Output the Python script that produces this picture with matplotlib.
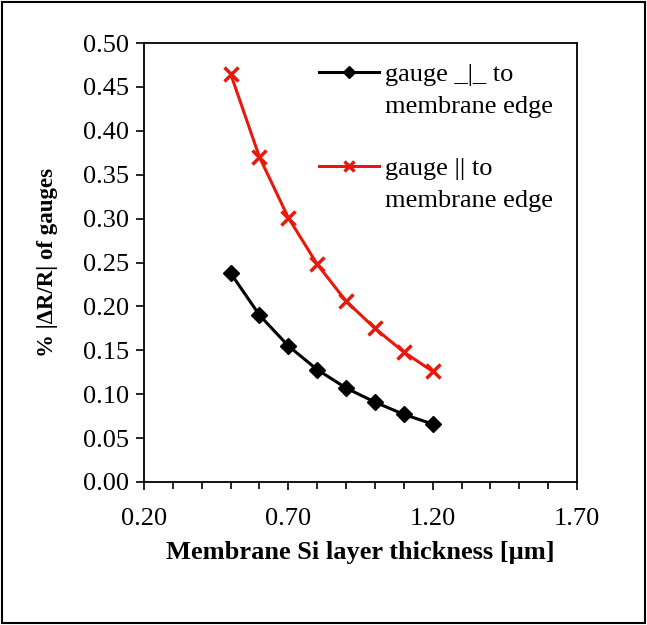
import matplotlib.pyplot as plt
import numpy as np
from matplotlib.patches import Rectangle
from matplotlib.lines import Line2D

plt.rcParams['font.family'] = ['Liberation Serif', 'DejaVu Serif']

# data
thickness = [0.5, 0.6, 0.7, 0.8, 0.9, 1.0, 1.1, 1.2]
perp = [0.238, 0.190, 0.155, 0.128, 0.107, 0.091, 0.077, 0.066]
para = [0.465, 0.370, 0.301, 0.248, 0.206, 0.175, 0.148, 0.126]
labels = ['gauge _|_ to', 'gauge || to', 'membrane edge']

fig = plt.figure(figsize=(6.47, 6.25), dpi=100)
ax = fig.add_axes([0.2226, 0.2288, 0.6692, 0.7024])

h1, = ax.plot(thickness, perp, color='black', lw=2.2, marker='D', ms=8)
h2, = ax.plot(thickness, para, color='#e8190c', lw=2.2, marker='x', ms=10, mew=2.5)

ax.set_xlim(0.2, 1.7)
ax.set_ylim(0, 0.5)
ax.set_xticks([0.2, 0.7, 1.2, 1.7])
ax.set_xticks(np.arange(0.2, 1.71, 0.1), minor=True)
ax.set_yticks(np.arange(0, 0.51, 0.05))
ax.xaxis.set_major_formatter(plt.FormatStrFormatter('%.2f'))
ax.yaxis.set_major_formatter(plt.FormatStrFormatter('%.2f'))
ax.tick_params(axis='both', which='major', direction='out', length=6, width=1.2,
               labelsize=19, pad=5)
ax.tick_params(axis='x', which='minor', direction='out', length=5, width=1.2)
ax.tick_params(axis='x', which='major', pad=13)
for s in ax.spines.values():
    s.set_linewidth(1.3)

ax.set_xlabel('Membrane Si layer thickness [µm]', fontsize=19, fontweight='bold',
              labelpad=8)
ax.set_ylabel('% |ΔR/R| of gauges', fontsize=16.5, fontweight='bold', labelpad=18)

# legend: handle beside first line of each two-line label
blank = Line2D([], [], linestyle='none')
ax.legend([h1, blank, blank, h2, blank],
          [labels[0], labels[2], ' ', labels[1], labels[2]],
          loc='upper left', bbox_to_anchor=(0.405, 0.955), frameon=False,
          fontsize=19, handlelength=2.25, markerscale=0.75, labelspacing=0.3,
          handletextpad=0.25, borderpad=0, borderaxespad=0)

fig.patches.append(Rectangle((0.003, 0.003), 0.994, 0.994, transform=fig.transFigure,
                             fill=False, edgecolor='black', lw=1.5))

plt.savefig('out.png', dpi=100)
